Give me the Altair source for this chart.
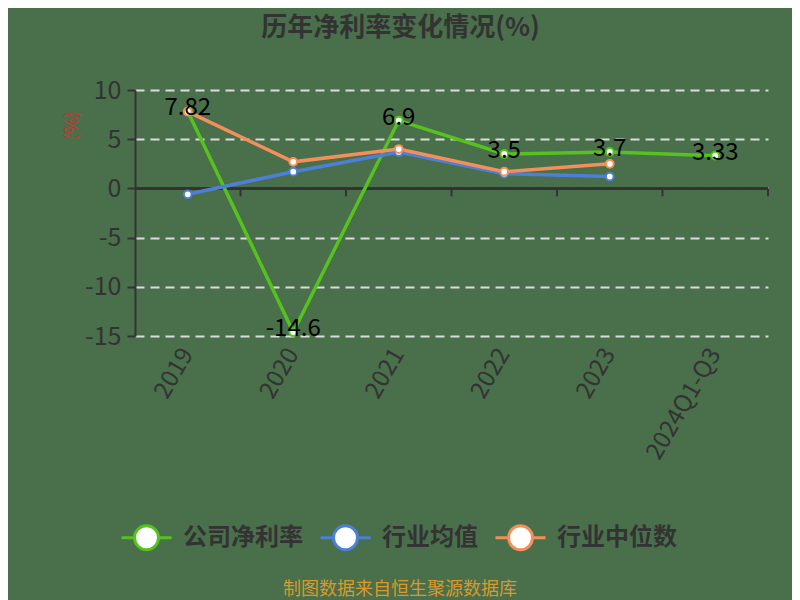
import altair as alt
import pandas as pd

categories = ["2019", "2020", "2021", "2022", "2023", "2024Q1-Q3"]
series_names = ["公司净利率", "行业均值", "行业中位数"]
company = [7.82, -14.6, 6.9, 3.5, 3.7, 3.33]
company_text = ["7.82", "-14.6", "6.9", "3.5", "3.7", "3.33"]
industry_avg = [-0.6, 1.7, 3.7, 1.5, 1.2]
industry_median = [7.8, 2.7, 4.0, 1.7, 2.5]
colors = ["#55c21f", "#4d7fd8", "#f38f5a"]

rows = []
for name, vals in zip(series_names, [company, industry_avg, industry_median]):
    for c, v in zip(categories, vals):
        rows.append({"cat": c, "series": name, "value": v})
df = pd.DataFrame(rows)
comp_df = pd.DataFrame({"cat": categories, "value": company, "label": company_text})

FONT = "Noto Sans CJK SC"

x_enc = alt.X("cat:N", sort=categories, title=None,
              scale=alt.Scale(domain=categories, paddingInner=0, paddingOuter=0),
              axis=alt.Axis(domain=False, ticks=False, grid=False, labelAngle=-60,
                            labelFontSize=24, labelColor="#333333", labelPadding=14,
                            labelFont=FONT))
y_enc = alt.Y("value:Q", title="(%)",
              scale=alt.Scale(domain=[-15, 10], nice=False),
              axis=alt.Axis(values=[-15, -10, -5, 0, 5, 10], grid=True, gridDash=[9, 6],
                            gridColor="#dcdcdc", gridWidth=2, domainColor="#333333",
                            domainWidth=2, tickColor="#333333", tickWidth=2, tickSize=8,
                            labelExpr="replace(datum.label, '\u2212', '-')",
                            labelFontSize=25, labelColor="#333333", labelPadding=6,
                            labelFont=FONT, titleColor="#d03030", titleFontSize=18,
                            titleFontWeight="normal", titleX=-63, titleY=35,
                            titleAlign="center", titleBaseline="middle", titleFont=FONT))

color_enc = alt.Color("series:N", sort=series_names,
                      scale=alt.Scale(domain=series_names, range=colors),
                      legend=alt.Legend(title=None, orient="none", direction="horizontal",
                                        legendX=-15, legendY=421,
                                        symbolType="M-1,0L-0.48,0M0.48,0L1,0M0.48,0A0.48,0.48,0,1,1,-0.48,0A0.48,0.48,0,1,1,0.48,0Z",
                                        symbolSize=2500, symbolStrokeWidth=3,
                                        symbolFillColor="white",
                                        labelFontSize=24, labelFontWeight="bold",
                                        labelColor="#333333",
                                        labelFont=FONT, labelOffset=10, columnPadding=11))

base = alt.Chart(df)

zero = alt.Chart(comp_df).mark_rule(color="#333333", strokeWidth=2).encode(y=alt.datum(0))
ticks = alt.Chart(comp_df).mark_rule(color="#333333", strokeWidth=2).encode(
    x=alt.X("cat:N", sort=categories, bandPosition=1),
    y=alt.datum(0), y2=alt.datum(-0.8))

lines = base.mark_line(strokeWidth=3.5).encode(x=x_enc, y=y_enc, color=color_enc)
points = base.mark_point(filled=False, fill="white", fillOpacity=1, opacity=1,
                         size=60, strokeWidth=2).encode(
    x=alt.X("cat:N", sort=categories), y="value:Q",
    color=alt.Color("series:N", sort=series_names, legend=None))
labels = alt.Chart(comp_df).mark_text(fontSize=24, color="black", dy=-3, font=FONT).encode(
    x=alt.X("cat:N", sort=categories), y="value:Q", text="label:N")

footer = alt.Chart(alt.Data(values=[{}])).mark_text(
    fontSize=18, color="#d99a2b", font=FONT).encode(
    x=alt.value(265), y=alt.value(500), text=alt.value("制图数据来自恒生聚源数据库"))

chart = alt.layer(zero, ticks, lines, points, labels, footer).properties(
    width=633, height=246,
    autosize=alt.AutoSizeParams(type="none"),
    padding={"left": 127, "top": 82, "right": 24, "bottom": 280},
    background="#4a6f4b",
    title=alt.TitleParams("历年净利率变化情况(%)", fontSize=26, fontWeight="bold",
                          color="#333333", font=FONT, anchor="middle", dx=-51, offset=37),
).configure_view(stroke=None)

chart.save("out.html", embed_options={"renderer": "svg", "actions": False})
